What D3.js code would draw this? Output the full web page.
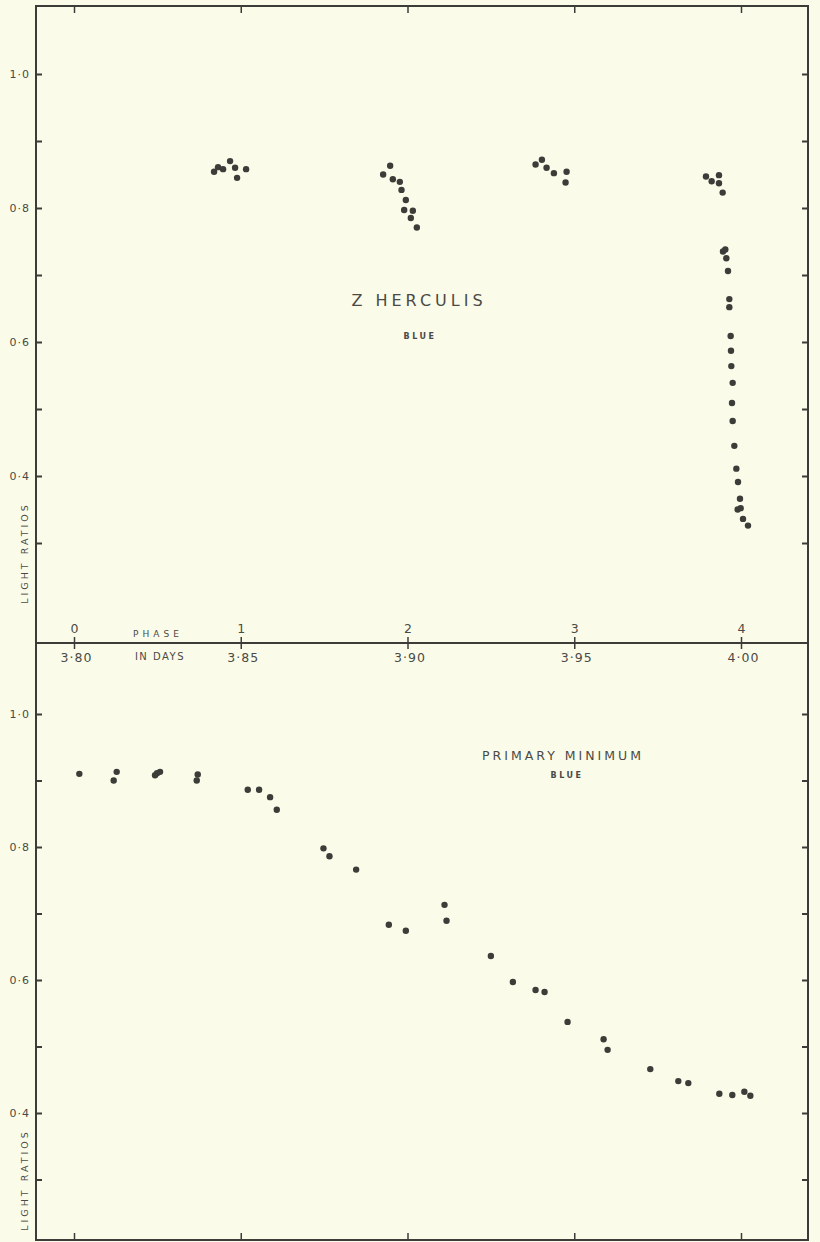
<!DOCTYPE html>
<html>
<head>
<meta charset="utf-8">
<script src="https://cdn.jsdelivr.net/npm/d3@7"></script>
<style>
  body { margin: 0; background: #fafce9; }
  svg { display: block; }
  text { font-family: "DejaVu Sans", sans-serif; fill: #4a4a46; }
</style>
</head>
<body>
<svg id="chart" width="820" height="1242"></svg>
<script>
// Upper panel: Z Herculis, blue light, days 3.80 - 4.00
const topDays = [3.8420, 3.8432, 3.8447, 3.8468, 3.8483, 3.8489, 3.8516,
  3.8927, 3.8948, 3.8956, 3.8977, 3.8982, 3.8995, 3.8990, 3.9016, 3.9010, 3.9028,
  3.9384, 3.9403, 3.9417, 3.9439, 3.9477, 3.9474,
  3.9895, 3.9912, 3.9934, 3.9934, 3.9945, 3.9946, 3.9953, 3.9956, 3.9961, 3.9965,
  3.9965, 3.9969, 3.9970, 3.9971, 3.9975, 3.9973, 3.9975, 3.9980, 3.9986, 3.9991,
  3.9997, 3.9990, 3.9999, 4.0006, 4.0021];
const topRatios = [0.854, 0.861, 0.858, 0.870, 0.860, 0.845, 0.858,
  0.850, 0.863, 0.843, 0.839, 0.827, 0.812, 0.797, 0.796, 0.785, 0.771,
  0.865, 0.872, 0.860, 0.852, 0.854, 0.838,
  0.847, 0.840, 0.849, 0.837, 0.823, 0.735, 0.738, 0.725, 0.706, 0.664,
  0.652, 0.609, 0.587, 0.564, 0.539, 0.509, 0.482, 0.445, 0.411, 0.391,
  0.366, 0.350, 0.352, 0.336, 0.326];

// Lower panel: primary minimum, blue
const botDays = [3.8016, 3.8119, 3.8128, 3.8243, 3.8249, 3.8258, 3.8368, 3.8371,
  3.8521, 3.8555, 3.8588, 3.8608, 3.8748, 3.8766, 3.8846, 3.8944, 3.8995,
  3.9111, 3.9117, 3.9250, 3.9316, 3.9384, 3.9411, 3.9480, 3.9588, 3.9600,
  3.9728, 3.9812, 3.9842, 3.9935, 3.9974, 4.0010, 4.0028];
const botRatios = [0.910, 0.900, 0.913, 0.908, 0.911, 0.913, 0.900, 0.909,
  0.886, 0.886, 0.875, 0.856, 0.798, 0.786, 0.766, 0.683, 0.674,
  0.713, 0.689, 0.636, 0.597, 0.585, 0.582, 0.537, 0.511, 0.495,
  0.466, 0.448, 0.445, 0.429, 0.427, 0.432, 0.426];

const dayTicks = [3.80, 3.85, 3.90, 3.95, 4.00];
const dayLabels = ["3·80", "3·85", "3·90", "3·95", "4·00"];
const phaseLabels = ["0", "1", "2", "3", "4"];
const ratioTicks = [0.3, 0.4, 0.5, 0.6, 0.7, 0.8, 0.9, 1.0];
const ratioLabels = {"1": "1·0", "0.8": "0·8", "0.6": "0·6", "0.4": "0·4"};

const ink = "#3c3c39";
const frameL = 36, frameR = 808, frameT = 6, frameM = 643, frameB = 1240;

const svg = d3.select("#chart");

const x = d3.scaleLinear().domain([3.80, 4.00]).range([74, 741]);
const yTop = d3.scaleLinear().domain([1.0, 0.3]).range([74, 543]);
const yBot = d3.scaleLinear().domain([1.0, 0.4]).range([714, 1113]);

// frame
svg.append("rect")
  .attr("x", frameL).attr("y", frameT)
  .attr("width", frameR - frameL).attr("height", frameB - frameT)
  .attr("fill", "none").attr("stroke", ink).attr("stroke-width", 2);

function yAxes(y, ticks) {
  const fmt = d => ratioLabels[String(+d.toFixed(1))] || "";
  svg.append("g")
    .attr("transform", `translate(${frameL},0)`)
    .call(d3.axisLeft(y).tickValues(ticks).tickSize(-6).tickPadding(6).tickFormat(fmt))
    .call(g => g.select(".domain").remove())
    .call(g => g.selectAll("line").attr("stroke", ink).attr("stroke-width", 2))
    .call(g => g.selectAll("text").attr("font-size", 11).style("letter-spacing", "1px"));
  svg.append("g")
    .attr("transform", `translate(${frameR},0)`)
    .call(d3.axisRight(y).tickValues(ticks).tickSize(-6).tickFormat(""))
    .call(g => g.select(".domain").remove())
    .call(g => g.selectAll("line").attr("stroke", ink).attr("stroke-width", 2));
}
yAxes(yTop, ratioTicks);
yAxes(yBot, ratioTicks);

// top & bottom edge ticks
svg.append("g").attr("transform", `translate(0,${frameT})`)
  .call(d3.axisTop(x).tickValues(dayTicks).tickSize(-7).tickFormat(""))
  .call(g => g.select(".domain").remove())
  .call(g => g.selectAll("line").attr("stroke", ink).attr("stroke-width", 1.5));
svg.append("g").attr("transform", `translate(0,${frameB})`)
  .call(d3.axisBottom(x).tickValues(dayTicks).tickSize(-7).tickFormat(""))
  .call(g => g.select(".domain").remove())
  .call(g => g.selectAll("line").attr("stroke", ink).attr("stroke-width", 1.5));

// middle axis: days below, phase above
svg.append("line")
  .attr("x1", frameL).attr("x2", frameR).attr("y1", frameM).attr("y2", frameM)
  .attr("stroke", ink).attr("stroke-width", 2);
svg.append("g").attr("transform", `translate(0,${frameM})`)
  .call(d3.axisBottom(x).tickValues(dayTicks).tickSize(6).tickPadding(4)
    .tickFormat((d, i) => dayLabels[i]))
  .call(g => g.select(".domain").remove())
  .call(g => g.selectAll("line").attr("stroke", ink).attr("stroke-width", 1.5))
  .call(g => g.selectAll("text").attr("font-size", 12.5).attr("dx", 2)
    .style("letter-spacing", "1px"));
svg.append("g").attr("transform", `translate(0,${frameM})`)
  .call(d3.axisTop(x).tickValues(dayTicks).tickSize(6).tickPadding(4)
    .tickFormat((d, i) => phaseLabels[i]))
  .call(g => g.select(".domain").remove())
  .call(g => g.selectAll("line").attr("stroke", ink).attr("stroke-width", 1.5))
  .call(g => g.selectAll("text").attr("font-size", 12.5));

svg.append("text").attr("x", 158).attr("y", 637).attr("text-anchor", "middle")
  .attr("font-size", 9).style("letter-spacing", "4px").text("PHASE");
svg.append("text").attr("x", 160).attr("y", 660).attr("text-anchor", "middle")
  .attr("font-size", 10).style("letter-spacing", "1.5px").text("IN  DAYS");

// axis titles
[553, 1180].forEach(cy => {
  svg.append("text")
    .attr("transform", `translate(28,${cy}) rotate(-90)`)
    .attr("text-anchor", "middle").attr("font-size", 9.5)
    .style("letter-spacing", "3px").text("LIGHT RATIOS");
});

// panel titles
svg.append("text").attr("x", 419).attr("y", 306).attr("text-anchor", "middle")
  .attr("font-size", 16).style("letter-spacing", "4px").text("Z HERCULIS");
svg.append("text").attr("x", 420).attr("y", 339).attr("text-anchor", "middle")
  .attr("font-size", 8).attr("font-weight", "bold").style("letter-spacing", "2.5px").text("BLUE");
svg.append("text").attr("x", 563).attr("y", 760).attr("text-anchor", "middle")
  .attr("font-size", 12.5).style("letter-spacing", "3px").text("PRIMARY  MINIMUM");
svg.append("text").attr("x", 567).attr("y", 778).attr("text-anchor", "middle")
  .attr("font-size", 8).attr("font-weight", "bold").style("letter-spacing", "2.5px").text("BLUE");

// points
svg.append("g").selectAll("circle")
  .data(d3.zip(topDays, topRatios))
  .join("circle")
  .attr("cx", d => x(d[0])).attr("cy", d => yTop(d[1]))
  .attr("r", 3.2).attr("fill", ink);

svg.append("g").selectAll("circle")
  .data(d3.zip(botDays, botRatios))
  .join("circle")
  .attr("cx", d => x(d[0])).attr("cy", d => yBot(d[1]))
  .attr("r", 3.2).attr("fill", ink);
</script>
</body>
</html>
